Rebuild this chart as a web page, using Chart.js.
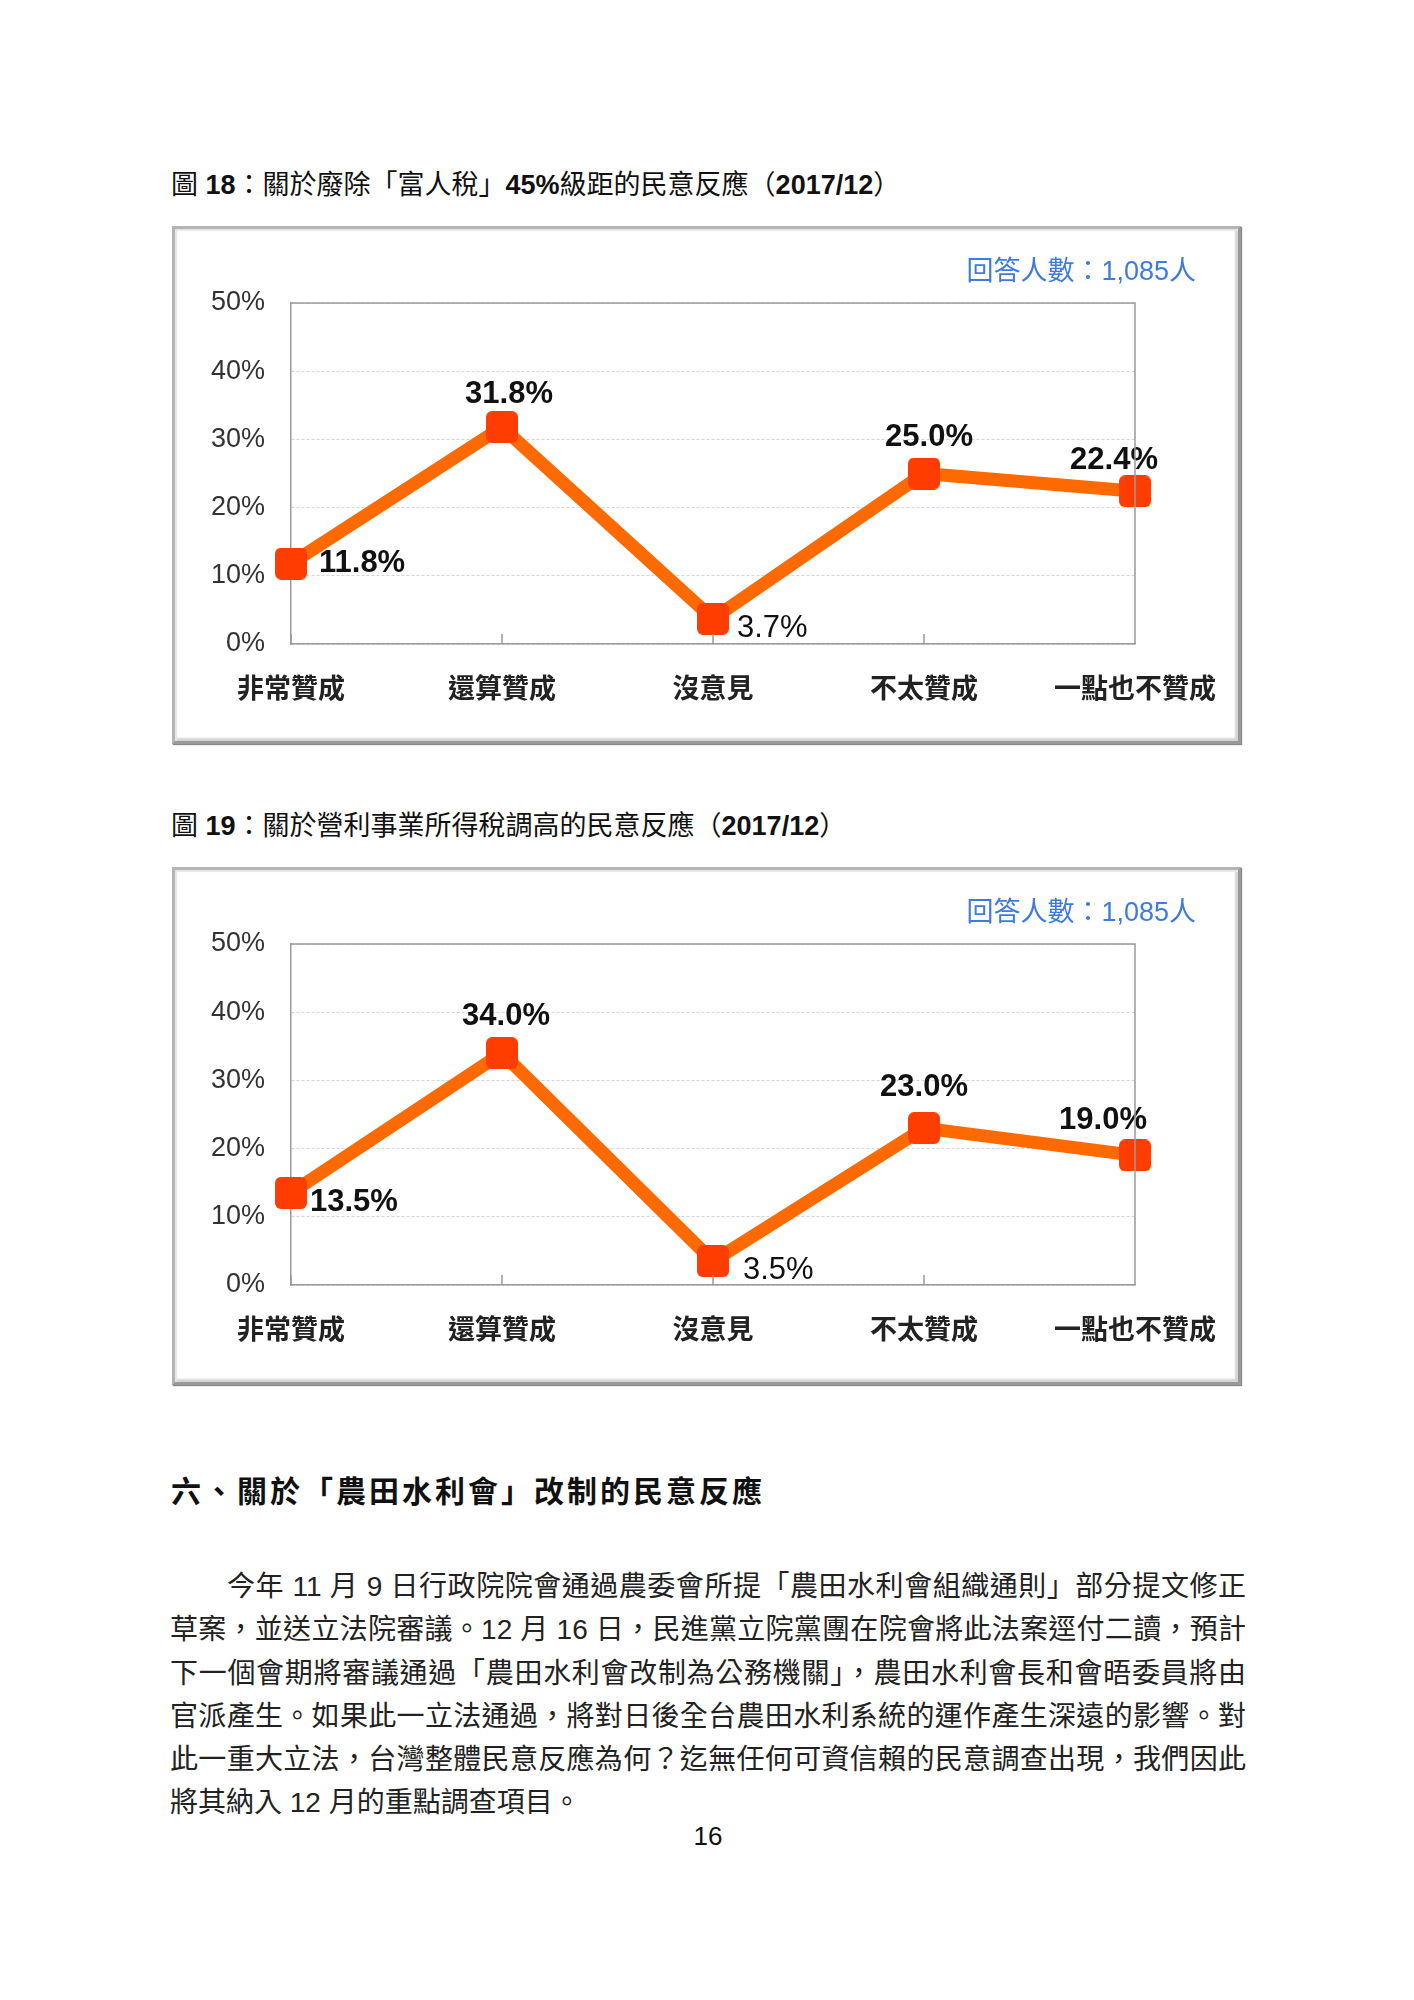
<!DOCTYPE html>
<html>
<head>
<meta charset="utf-8">
<script src="https://cdn.jsdelivr.net/npm/chart.js@4.4.1/dist/chart.umd.min.js"></script>
<style>
  body { margin: 0; background: #fff; font-family: "Liberation Sans", "Noto Sans CJK TC", sans-serif; color: #111; }
  .page { position: relative; width: 1414px; height: 2000px; }
  .fig-title { position: absolute; left: 171px; font-size: 27px; line-height: 36px; white-space: nowrap; }
  .fig-title b { font-family: "Liberation Sans", sans-serif; }
  .frame { position: absolute; left: 172px; width: 1069px; height: 518px; box-sizing: border-box;
    border: 3px solid #b4b4b4; border-right-color: #9a9a9a; border-bottom-color: #9a9a9a;
    box-shadow: inset 2px 2px 1px #e6e6e6, inset -3px -3px 2px #d4d4d4, 1px 1px 1px #888; background: #fff; }
  .chart-box { position: absolute; left: 0; top: 0; width: 1063px; height: 512px; }
  .count { position: absolute; right: 42px; top: 25px; font-size: 27px; line-height: 34px; color: #3d7be0; white-space: nowrap; }
  .heading { position: absolute; left: 171px; top: 1469px; font-size: 30px; line-height: 40px; font-weight: 700;
    letter-spacing: 3px; font-family: "Noto Sans CJK TC", sans-serif; white-space: nowrap; }
  .body { position: absolute; left: 170px; top: 1565px; width: 1076px; font-size: 28px; line-height: 43.3px; color: #222; }
  .body div { text-align: justify; text-align-last: justify; white-space: nowrap; }
  .body div.last { text-align-last: left; }
  .pageno { position: absolute; left: 658px; top: 1818px; width: 100px; text-align: center; font-size: 26px; line-height: 36px; }
</style>
</head>
<body>
<div class="page">
  <div class="fig-title" style="top:167px">圖 <b>18</b>：關於廢除「富人稅」<b>45%</b>級距的民意反應（<b>2017/12</b>）</div>
  <div class="frame" style="top:226px">
    <div class="chart-box"><canvas id="chart18"></canvas></div>
    <div class="count">回答人數：1,085人</div>
  </div>

  <div class="fig-title" style="top:808px">圖 <b>19</b>：關於營利事業所得稅調高的民意反應（<b>2017/12</b>）</div>
  <div class="frame" style="top:867px">
    <div class="chart-box"><canvas id="chart19"></canvas></div>
    <div class="count">回答人數：1,085人</div>
  </div>

  <div class="heading">六、關於「農田水利會」改制的民意反應</div>
  <div class="body">
    <div>　　今年 11 月 9 日行政院院會通過農委會所提「農田水利會組織通則」部分提文修正</div>
    <div>草案，並送立法院審議。12 月 16 日，民進黨立院黨團在院會將此法案逕付二讀，預計</div>
    <div>下一個會期將審議通過「農田水利會改制為公務機關」，農田水利會長和會晤委員將由</div>
    <div>官派產生。如果此一立法通過，將對日後全台農田水利系統的運作產生深遠的影響。對</div>
    <div>此一重大立法，台灣整體民意反應為何？迄無任何可資信賴的民意調查出現，我們因此</div>
    <div class="last">將其納入 12 月的重點調查項目。</div>
  </div>
  <div class="pageno">16</div>
</div>

<script>
const categories = ["非常贊成", "還算贊成", "沒意見", "不太贊成", "一點也不贊成"];
const values18 = [11.8, 31.8, 3.7, 25.0, 22.4];
const values19 = [13.5, 34.0, 3.5, 23.0, 19.0];
const yTicks = [0, 10, 20, 30, 40, 50];

// label placement per point: [dx, dy, align]
const labelPos18 = [[28, 0, "left"], [7, -33, "center"], [24, 10, "left"], [5, -36, "center"], [-21, -31, "center"]];
const labelPos19 = [[19, 10, "left"], [4, -37, "center"], [30, 9, "left"], [0, -41, "center"], [-32, -35, "center"]];

// rounded square marker
function makeMarker() {
  var c = document.createElement("canvas");
  c.width = 32;
  c.height = 32;
  var g = c.getContext("2d");
  g.fillStyle = "#ff3d00";
  g.beginPath();
  g.roundRect(0, 0, 32, 32, 6);
  g.fill();
  return c;
}
const marker = makeMarker();

// frame of the plot area + small inner ticks on the x axis
const plotFrame = {
  id: "plotFrame",
  afterDraw(chart) {
    const a = chart.chartArea;
    const x = chart.scales.x;
    const ctx = chart.ctx;
    ctx.save();
    ctx.strokeStyle = "#9a9a9a";
    ctx.lineWidth = 1.5;
    ctx.beginPath();
    ctx.moveTo(a.left, a.top);
    ctx.lineTo(a.right, a.top);
    ctx.lineTo(a.right, a.bottom);
    categories.forEach((c, i) => {
      const px = x.getPixelForValue(i);
      ctx.moveTo(px, a.bottom);
      ctx.lineTo(px, a.bottom - 10);
    });
    ctx.stroke();
    ctx.restore();
  },
};

const pointLabels = {
  id: "pointLabels",
  afterDatasetsDraw(chart, args, opts) {
    const ctx = chart.ctx;
    const meta = chart.getDatasetMeta(0);
    const data = chart.data.datasets[0].data;
    ctx.save();
    ctx.fillStyle = "#111";
    ctx.textBaseline = "middle";
    meta.data.forEach((pt, i) => {
      const p = opts.pos[i];
      ctx.font = (i == 2 ? "" : "bold ") + "31px 'Liberation Sans', sans-serif";
      ctx.textAlign = p[2];
      ctx.fillText(data[i].toFixed(1) + "%", pt.x + p[0], pt.y + p[1]);
    });
    ctx.restore();
  },
};

function drawChart(id, values, pos) {
  var ctx = document.getElementById(id).getContext("2d");
  return new Chart(ctx, {
    type: "line",
    data: {
      labels: categories,
      datasets: [
        {
          data: values,
          borderColor: "#ff6a00",
          borderWidth: 13,
          tension: 0,
          clip: false,
          pointStyle: marker,
          pointRadius: 16,
          pointHoverRadius: 16,
        },
      ],
    },
    plugins: [plotFrame, pointLabels],
    options: {
      responsive: true,
      maintainAspectRatio: false,
      animation: false,
      events: [],
      layout: { padding: { left: 0, top: 74, right: 103, bottom: 0 } },
      plugins: {
        legend: { display: false },
        tooltip: { enabled: false },
        pointLabels: { pos: pos },
      },
      scales: {
        x: {
          offset: false,
          grid: { display: false, drawTicks: false },
          border: { display: true, color: "#9a9a9a", width: 1.5 },
          ticks: {
            color: "#222",
            padding: 28,
            maxRotation: 0,
            autoSkip: false,
            font: { family: "'Noto Sans CJK TC', sans-serif", size: 27, weight: "bold" },
          },
          afterFit: (scale) => {
            scale.height = 97;
            scale.paddingLeft = 0;
            scale.paddingRight = 0;
          },
        },
        y: {
          min: 0,
          max: 50,
          afterBuildTicks: (scale) => { scale.ticks = yTicks.map((v) => ({ value: v })); },
          grid: { color: "#d4d4d4", lineWidth: 1, drawTicks: false },
          border: { display: true, color: "#9a9a9a", width: 1.5, dash: [3, 2] },
          ticks: {
            color: "#333",
            padding: 26,
            font: { family: "'Liberation Sans', sans-serif", size: 27 },
            callback: (v) => v + "%",
          },
          afterFit: (scale) => { scale.width = 116; },
        },
      },
    },
  });
}

drawChart("chart18", values18, labelPos18);
drawChart("chart19", values19, labelPos19);
</script>
</body>
</html>
